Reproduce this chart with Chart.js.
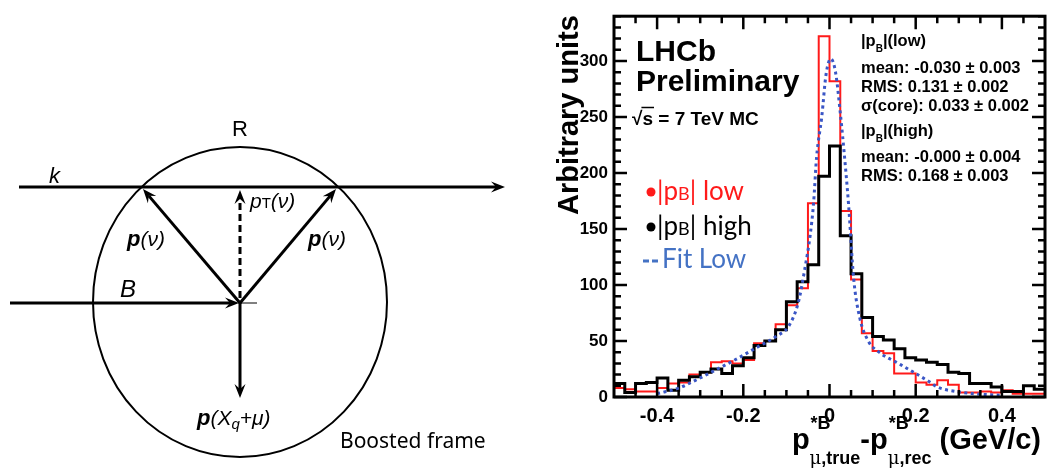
<!DOCTYPE html>
<html>
<head>
<meta charset="utf-8">
<script src="https://cdn.jsdelivr.net/npm/chart.js@4.4.1/dist/chart.umd.min.js"></script>
<style>
  html, body { margin: 0; padding: 0; background: #fff; }
  canvas { display: block; }
</style>
</head>
<body>
<canvas id="c" width="1050" height="470"></canvas>
<script>
// histogram binning (40 bins of 0.025 GeV/c)
const binStart = -0.5;
const binWidth = 0.025;

// |pB| low sample (red)
const pbLow = [8, 7, 5, 5, 8, 12, 13, 20, 22, 31, 32, 30, 33, 48, 50, 65, 82, 97, 173, 322,
               282, 166, 105, 57, 41, 39, 21, 21, 13, 11, 15, 11, 4, 4, 5, 4, 6, 3, 3, 3];
// |pB| high sample (black)
const pbHigh = [12, 4, 12, 13, 17, 6, 15, 18, 22, 25, 21, 28, 35, 46, 50, 60, 85, 103, 118, 197,
                224, 144, 110, 71, 54, 51, 43, 35, 33, 31, 29, 22, 21, 12, 12, 9, 5, 5, 10, 7];

// fit to the low sample
const fitX = [-0.40, -0.35, -0.30, -0.26, -0.22, -0.17, -0.12, -0.095, -0.072, -0.057, -0.045, -0.037,
              -0.030, -0.018, -0.008, 0.003, 0.014, 0.026, 0.035, 0.044, 0.056, 0.070, 0.090, 0.115,
              0.160, 0.200, 0.230, 0.250, 0.300, 0.350, 0.400];
const fitY = [3, 8, 17, 25, 33, 44, 55, 63, 85, 115, 144, 173,
              214, 250, 288, 302, 290, 250, 214, 173, 106, 71, 50, 40,
              30, 21, 14, 9, 4.5, 2.5, 1.5];

const xTickLabels = [-0.4, -0.2, 0, 0.2, 0.4];
const yTickLabels = [0, 50, 100, 150, 200, 250, 300];

const HELV = '"Liberation Sans", Arial, Helvetica, sans-serif';

function histPoints(vals) {
  const pts = vals.map((v, i) => ({ x: binStart + i * binWidth, y: v }));
  pts.push({ x: binStart + vals.length * binWidth, y: vals[vals.length - 1] });
  return pts;
}

// draw a list of text runs left to right
function runs(ctx, x, y, list) {
  for (const r of list) {
    ctx.font = r.font;
    ctx.fillStyle = r.color || '#000';
    ctx.fillText(r.t, x, y + (r.dy || 0));
    x += ctx.measureText(r.t).width + (r.gap || 0);
  }
  return x;
}

function arrow(ctx, x1, y1, x2, y2, lw, dash) {
  const a = Math.atan2(y2 - y1, x2 - x1);
  const c = Math.cos(a), s = Math.sin(a);
  const L = 14, W = 5.5, N = 9;
  ctx.lineWidth = lw;
  ctx.setLineDash(dash || []);
  ctx.beginPath();
  ctx.moveTo(x1, y1);
  ctx.lineTo(x2 - c * N, y2 - s * N);
  ctx.stroke();
  ctx.setLineDash([]);
  ctx.beginPath();
  ctx.moveTo(x2, y2);
  ctx.lineTo(x2 - L * c - W * s, y2 - L * s + W * c);
  ctx.lineTo(x2 - N * c, y2 - N * s);
  ctx.lineTo(x2 - L * c + W * s, y2 - L * s - W * c);
  ctx.closePath();
  ctx.fill();
}

const framePlugin = {
  id: 'frame',
  afterDatasetsDraw(chart) {
    const ctx = chart.ctx;
    const { left, right, top, bottom } = chart.chartArea;
    const xs = chart.scales.x, ys = chart.scales.y;
    ctx.save();
    ctx.strokeStyle = '#000';
    ctx.lineWidth = 3;
    ctx.strokeRect(left, top, right - left, bottom - top);
    ctx.lineWidth = 2.5;
    ctx.beginPath();
    for (let v = 0; v <= 340; v += 10) {
      const y = ys.getPixelForValue(v);
      const len = v % 50 === 0 ? 13 : 7;
      ctx.moveTo(left, y); ctx.lineTo(left + len, y);
      ctx.moveTo(right, y); ctx.lineTo(right - len, y);
    }
    for (let k = -9; k <= 9; k++) {
      const v = k * 0.05;
      const x = xs.getPixelForValue(v);
      const len = k % 4 === 0 ? 13 : 7;
      ctx.moveTo(x, bottom); ctx.lineTo(x, bottom - len);
      ctx.moveTo(x, top); ctx.lineTo(x, top + len);
    }
    ctx.stroke();
    ctx.restore();
  },
  afterDraw(chart) {
    const ctx = chart.ctx;
    ctx.save();
    ctx.textBaseline = 'alphabetic';
    ctx.textAlign = 'left';

    // ---------- y axis title
    ctx.save();
    ctx.translate(578, 215);
    ctx.rotate(-Math.PI / 2);
    ctx.font = 'bold 29px ' + HELV;
    ctx.fillStyle = '#000';
    ctx.fillText('Arbitrary units', 0, 0);
    ctx.restore();

    // ---------- x axis title (right aligned)
    const big = 'bold 29px ' + HELV;
    const sm = 'bold 18px ' + HELV;
    const mu = '18px "DejaVu Serif", serif';
    ctx.font = big;
    const wp = ctx.measureText('p').width;
    const wdp = ctx.measureText('-p').width;
    const wu = ctx.measureText(' (GeV/c)').width;
    ctx.font = mu; const wmu = ctx.measureText('μ').width;
    ctx.font = sm;
    const wTrue = wmu + ctx.measureText(',true').width;
    const wRec = wmu + ctx.measureText(',rec').width;
    const total = wp + wTrue + wdp + wRec + wu;
    let x = 1041 - total;
    const by = 449;
    ctx.fillStyle = '#000';
    ctx.font = big; ctx.fillText('p', x, by); x += wp;
    ctx.font = sm; ctx.fillText('*B', x + 1, by - 20);
    runs(ctx, x, by + 15, [{ t: 'μ', font: mu }, { t: ',true', font: sm }]);
    x += wTrue;
    ctx.font = big; ctx.fillText('-p', x, by); x += wdp;
    ctx.font = sm; ctx.fillText('*B', x + 1, by - 20);
    runs(ctx, x, by + 15, [{ t: 'μ', font: mu }, { t: ',rec', font: sm }]);
    x += wRec;
    ctx.font = big; ctx.fillText(' (GeV/c)', x, by);

    // ---------- LHCb label
    ctx.font = 'bold 30px ' + HELV;
    ctx.fillText('LHCb', 636, 61);
    ctx.fillText('Preliminary', 636, 91);
    ctx.font = 'bold 19px ' + HELV;
    ctx.fillText('√', 632, 125);
    const sx = 632 + ctx.measureText('√').width;
    ctx.fillText('s = 7 TeV MC', sx, 125);
    ctx.lineWidth = 1.5;
    ctx.beginPath();
    ctx.moveTo(sx - 1, 107.5); ctx.lineTo(sx + ctx.measureText('s').width + 1, 107.5);
    ctx.stroke();

    // ---------- stats box text
    const st = 'bold 16.5px ' + HELV;
    const stS = 'bold 10px ' + HELV;
    runs(ctx, 861, 46, [{ t: '|p', font: st }, { t: 'B', font: stS, dy: 6 }, { t: '|(low)', font: st }]);
    ctx.font = st;
    ctx.fillText('mean: -0.030 ± 0.003', 861, 73);
    ctx.fillText('RMS: 0.131 ± 0.002', 861, 92);
    ctx.fillText('σ(core): 0.033 ± 0.002', 861, 111);
    runs(ctx, 861, 136, [{ t: '|p', font: st }, { t: 'B', font: stS, dy: 6 }, { t: '|(high)', font: st }]);
    ctx.font = st;
    ctx.fillText('mean: -0.000 ± 0.004', 861, 162);
    ctx.fillText('RMS: 0.168 ± 0.003', 861, 181);

    // ---------- legend
    const lg = '26px Lato, "Open Sans", sans-serif';
    const lgS = '18px Lato, "Open Sans", sans-serif';
    ctx.fillStyle = '#ff1a1a';
    ctx.beginPath(); ctx.arc(651, 192, 4.5, 0, Math.PI * 2); ctx.fill();
    runs(ctx, 657, 200, [{ t: '|p', font: lg, color: '#ff1a1a' }, { t: 'B', font: lgS, color: '#ff1a1a' },
                         { t: '| low', font: lg, color: '#ff1a1a' }]);
    ctx.fillStyle = '#000';
    ctx.beginPath(); ctx.arc(651, 227, 4.5, 0, Math.PI * 2); ctx.fill();
    runs(ctx, 657, 235, [{ t: '|p', font: lg }, { t: 'B', font: lgS }, { t: '| high', font: lg }]);
    ctx.strokeStyle = '#4472c4';
    ctx.lineWidth = 3;
    ctx.beginPath();
    ctx.moveTo(643, 261); ctx.lineTo(649, 261);
    ctx.moveTo(652, 261); ctx.lineTo(658, 261);
    ctx.stroke();
    runs(ctx, 662, 268, [{ t: 'Fit Low', font: lg, color: '#4472c4' }]);

    // ---------- boosted frame diagram
    ctx.strokeStyle = '#000';
    ctx.fillStyle = '#000';
    ctx.lineWidth = 2;
    ctx.beginPath();
    ctx.ellipse(240, 302, 147, 155, 0, 0, Math.PI * 2);
    ctx.stroke();
    arrow(ctx, 19, 187, 505, 187, 3);
    arrow(ctx, 10, 303, 239, 303, 3);
    ctx.lineWidth = 1;
    ctx.beginPath(); ctx.moveTo(240, 303); ctx.lineTo(257, 303); ctx.stroke();
    arrow(ctx, 240, 303, 240, 398, 3);
    arrow(ctx, 240, 303, 143, 189, 3);
    arrow(ctx, 240, 303, 336, 189, 3);
    arrow(ctx, 240, 298, 240, 190, 3, [7, 4]);

    ctx.textAlign = 'center';
    ctx.font = '22px ' + HELV;
    ctx.fillText('R', 240, 136);
    ctx.textAlign = 'left';
    ctx.font = 'italic 22px ' + HELV;
    ctx.fillText('k', 49, 183);
    ctx.font = 'italic 24px ' + HELV;
    ctx.fillText('B', 120, 297);
    const it = 'italic 21px ' + HELV;
    const bi = 'bold italic 22px ' + HELV;
    runs(ctx, 250, 208, [{ t: 'p', font: it }, { t: 'T', font: '15px ' + HELV }, { t: '(ν)', font: it }]);
    runs(ctx, 127, 246, [{ t: 'p', font: bi }, { t: '(ν)', font: it }]);
    runs(ctx, 308, 246, [{ t: 'p', font: bi }, { t: '(ν)', font: it }]);
    runs(ctx, 197, 425, [{ t: 'p', font: bi }, { t: '(X', font: it }, { t: 'q', font: 'italic 15px ' + HELV, dy: 4 },
                         { t: '+μ)', font: it }]);
    ctx.font = '21px "Noto Sans", sans-serif';
    ctx.fillText('Boosted frame', 340, 448);
    ctx.restore();
  }
};

new Chart(document.getElementById('c'), {
  type: 'line',
  data: {
    datasets: [
      {
        label: 'Fit Low',
        data: fitX.map((v, i) => ({ x: v, y: fitY[i] })),
        borderColor: '#3a56c6',
        borderWidth: 3,
        borderDash: [3, 3.5],
        cubicInterpolationMode: 'monotone',
        pointRadius: 0,
        fill: false
      },
      {
        label: '|pB| high',
        data: histPoints(pbHigh),
        borderColor: '#000',
        borderWidth: 3,
        stepped: 'before',
        pointRadius: 0,
        fill: false
      },
      {
        label: '|pB| low',
        data: histPoints(pbLow),
        borderColor: '#ff1a1a',
        borderWidth: 2,
        stepped: 'before',
        pointRadius: 0,
        fill: false
      }
    ]
  },
  options: {
    responsive: false,
    animation: false,
    devicePixelRatio: 1,
    layout: { padding: { left: 0, right: 5, top: 10, bottom: 0 } },
    plugins: { legend: { display: false }, tooltip: { enabled: false } },
    scales: {
      x: {
        type: 'linear',
        min: -0.5,
        max: 0.5,
        grid: { display: false, drawTicks: false },
        border: { display: false },
        ticks: {
          color: '#000',
          font: { family: HELV, size: 20, weight: 'bold' },
          padding: 7,
          maxRotation: 0,
          autoSkip: false,
          callback: v => String(Math.round(v * 10) / 10)
        },
        afterBuildTicks: s => { s.ticks = xTickLabels.map(v => ({ value: v })); },
        afterFit: s => { s.height = 73; }
      },
      y: {
        min: 0,
        max: 340,
        grid: { display: false, drawTicks: false },
        border: { display: false },
        ticks: {
          color: '#000',
          font: { family: HELV, size: 17, weight: 'bold' },
          padding: 6
        },
        afterBuildTicks: s => { s.ticks = yTickLabels.map(v => ({ value: v })); },
        afterFit: s => { s.width = 614; }
      }
    }
  },
  plugins: [framePlugin]
});
</script>
</body>
</html>
